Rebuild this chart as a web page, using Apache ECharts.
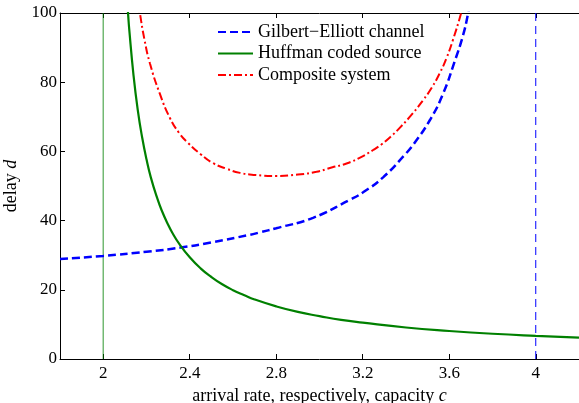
<!DOCTYPE html>
<html>
<head>
<meta charset="utf-8">
<script src="https://cdn.jsdelivr.net/npm/echarts@6/dist/echarts.min.js"></script>
<style>
  html, body { margin: 0; padding: 0; background: #fff; }
  #chart { width: 579px; height: 403px; }
</style>
</head>
<body>
<div id="chart"></div>
<script>
// Delay versus arrival rate / capacity
const xTicks = [2, 2.4, 2.8, 3.2, 3.6, 4];
const yTicks = [0, 20, 40, 60, 80, 100];

// Gilbert–Elliott channel delay
const channelRate  = [1.8, 2.0, 2.2, 2.358, 2.5, 2.678, 2.724, 2.8, 2.97, 3.14, 3.2, 3.294, 3.4, 3.433, 3.51, 3.571, 3.625, 3.664, 3.687, 3.7];
const channelDelay = [28.9, 29.8, 31.0, 32.2, 33.7, 35.9, 36.6, 37.8, 40.8, 46.0, 48.1, 52.5, 59.4, 61.9, 69.0, 76.6, 86.0, 93.6, 99.8, 104];

// Huffman coded source delay
const sourceRate  = [2.11, 2.115, 2.12, 2.14, 2.16, 2.18, 2.2, 2.22, 2.25, 2.27, 2.3, 2.32, 2.35, 2.4, 2.45, 2.5, 2.55, 2.6, 2.65, 2.7, 2.8, 2.9, 3.0, 3.1, 3.2, 3.4, 3.6, 3.8, 4.0, 4.2];
const sourceDelay = [104, 99.6, 95.4, 82.0, 71.8, 64.0, 57.7, 52.5, 46.4, 43.0, 38.8, 36.4, 33.4, 29.4, 26.2, 23.7, 21.6, 19.9, 18.5, 17.2, 15.2, 13.6, 12.4, 11.3, 10.5, 9.1, 8.1, 7.3, 6.7, 6.2];

// Composite system delay
const compositeRate  = [2.16, 2.17, 2.19, 2.216, 2.262, 2.308, 2.35, 2.393, 2.45, 2.508, 2.57, 2.632, 2.7, 2.8, 2.9, 2.986, 3.06, 3.125, 3.19, 3.248, 3.286, 3.33, 3.371, 3.43, 3.479, 3.518, 3.556, 3.587, 3.617, 3.656, 3.675];
const compositeDelay = [104, 99.8, 92.5, 85.4, 76.6, 69.7, 65.4, 62.4, 59.2, 56.6, 55.0, 53.8, 53.2, 52.9, 53.3, 54.1, 55.4, 56.5, 58.3, 60.4, 62.0, 64.3, 66.8, 70.9, 74.8, 78.3, 82.6, 86.9, 92.2, 100.2, 105];

// Vertical reference lines
const sourceEntropyRate = 2;
const channelCapacity = 4;

const zip = (xs, ys) => xs.map((x, i) => [x, ys[i]]);
const serif = '"Liberation Serif", "DejaVu Serif", serif';

const chart = echarts.init(document.getElementById('chart'), null, { renderer: 'canvas' });

const baseX = {
  type: 'value', min: 1.8, max: 4.2,
  axisLine: { show: true, onZero: false, lineStyle: { color: '#000', width: 1 } },
  splitLine: { show: false },
  axisTick: { inside: true, length: 5, customValues: xTicks, lineStyle: { color: '#000' } }
};

chart.setOption({
  animation: false,
  grid: { left: 60, right: 0, top: 13, bottom: 44, containLabel: false, outerBoundsMode: 'none' },
  legend: {
    orient: 'vertical', left: 212, top: 17,
    itemWidth: 35, itemHeight: 14, itemGap: 1.5,
    itemStyle: { opacity: 0 },
    textStyle: { fontFamily: serif, fontSize: 18, lineHeight: 20, color: '#000' },
    data: ['Gilbert\u2212Elliott channel', 'Huffman coded source', 'Composite system']
  },
  xAxis: [
    Object.assign({}, baseX, {
      position: 'bottom',
      axisLabel: { customValues: xTicks, color: '#000', fontFamily: serif, fontSize: 17, margin: 6 },
      name: '{a|arrival rate, respectively, capacity }{b|c}',
      nameLocation: 'middle', nameGap: 23,
      nameTextStyle: {
        rich: {
          a: { fontFamily: serif, fontSize: 18, color: '#000' },
          b: { fontFamily: serif, fontSize: 18, color: '#000', fontStyle: 'italic' }
        }
      }
    }),
    Object.assign({}, baseX, { position: 'top', axisLabel: { show: false } })
  ],
  yAxis: {
    type: 'value', min: 0, max: 100, interval: 20,
    axisLine: { show: true, lineStyle: { color: '#000', width: 1 } },
    splitLine: { show: false },
    axisTick: { inside: true, length: 5, lineStyle: { color: '#000' } },
    axisLabel: { color: '#000', fontFamily: serif, fontSize: 17, margin: 3 },
    name: '{a|delay }{b|d}',
    nameLocation: 'middle', nameGap: 32, nameRotate: 90,
    nameTextStyle: {
      rich: {
        a: { fontFamily: serif, fontSize: 18, color: '#000' },
        b: { fontFamily: serif, fontSize: 18, color: '#000', fontStyle: 'italic' }
      }
    }
  },
  series: [
    {
      name: 'source limit', type: 'line', symbol: 'none', silent: true,
      data: [[sourceEntropyRate, 0], [sourceEntropyRate, 100]],
      lineStyle: { color: '#008000', width: 1.5, opacity: 0.55 }
    },
    {
      name: 'capacity', type: 'line', symbol: 'none', silent: true,
      data: [[channelCapacity, 0], [channelCapacity, 100]],
      lineStyle: { color: '#0000ff', width: 1, type: [8, 5] }
    },
    {
      name: 'Gilbert\u2212Elliott channel', type: 'line', symbol: 'none', smooth: 0.5,
      data: zip(channelRate, channelDelay),
      itemStyle: { color: '#0000ff' },
      lineStyle: { color: '#0000ff', width: 2.5, type: [8, 4] }
    },
    {
      name: 'Huffman coded source', type: 'line', symbol: 'none', smooth: 0.5,
      data: zip(sourceRate, sourceDelay),
      itemStyle: { color: '#008000' },
      lineStyle: { color: '#008000', width: 2.2 }
    },
    {
      name: 'Composite system', type: 'line', symbol: 'none', smooth: 0.5,
      data: zip(compositeRate, compositeDelay),
      itemStyle: { color: '#ff0000' },
      lineStyle: { color: '#ff0000', width: 2, type: [8, 3, 2, 3] }
    }
  ]
});
</script>
</body>
</html>
